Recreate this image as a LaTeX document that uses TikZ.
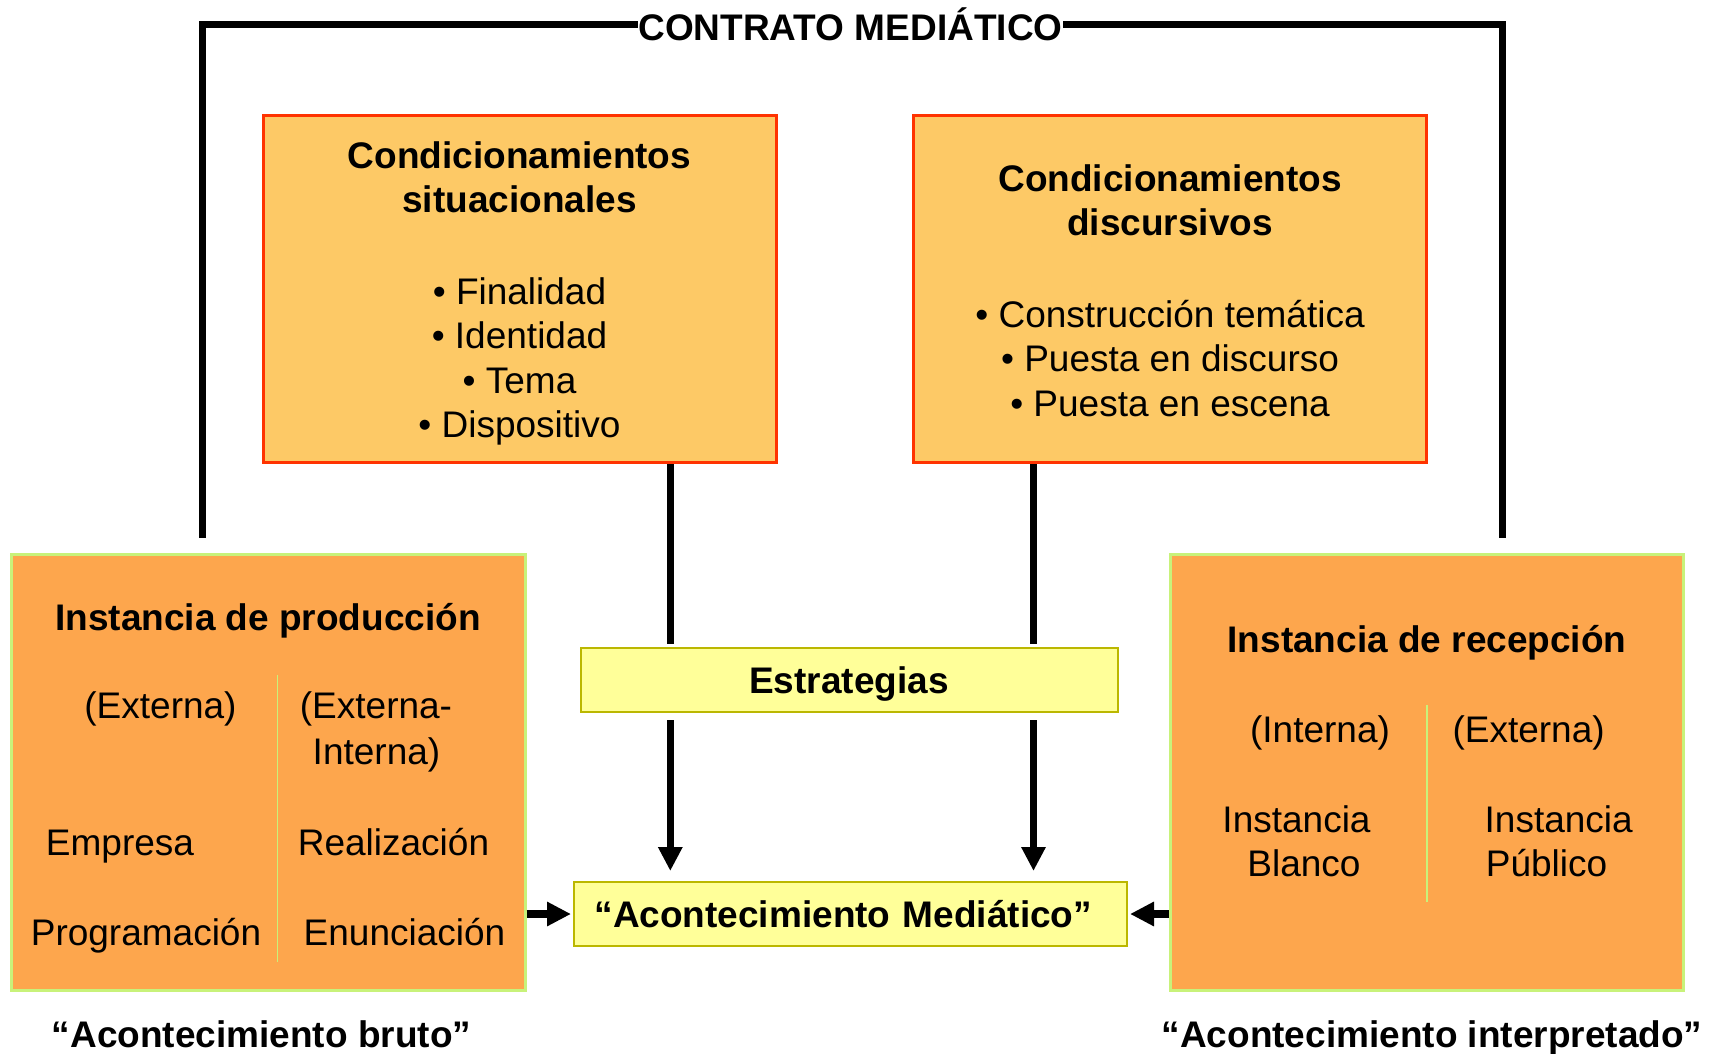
\documentclass[tikz,border=0pt]{standalone}
\usepackage{fontspec}
\setmainfont{Liberation Sans}
\usetikzlibrary{arrows.meta}
\definecolor{condfill}{RGB}{253,201,102}
\definecolor{condline}{RGB}{255,51,0}
\definecolor{instfill}{RGB}{253,166,77}
\definecolor{instline}{RGB}{200,242,122}
\definecolor{stratfill}{RGB}{255,255,153}
\definecolor{stratline}{RGB}{187,183,0}
\newcommand\diagfont{\fontsize{37}{44.5}\selectfont}
\begin{document}
\begin{tikzpicture}[x=1pt,y=-1pt,
  condbox/.style={draw=condline, line width=3pt, fill=condfill, minimum width=513pt, minimum height=347pt, inner sep=0pt, align=center, font=\diagfont},
  instbox/.style={draw=instline, line width=3pt, fill=instfill, minimum width=514pt, minimum height=436pt, inner sep=0pt},
  stratbox/.style={draw=stratline, line width=2pt, fill=stratfill, minimum height=64pt, inner sep=0pt, text height=26.5pt, text depth=0pt, font=\diagfont\bfseries},
  txt/.style={font=\diagfont, inner sep=0pt, anchor=base},
  btxt/.style={font=\diagfont\bfseries, inner sep=0pt, anchor=base},
  bracketline/.style={line width=7pt, line join=miter},
  vline/.style={line width=7.5pt},
  flow/.style={line width=8.5pt, -{Triangle[length=24pt,width=23pt]}},
  divider/.style={draw=instline, line width=1.6pt}
]
\useasboundingbox (0,0) rectangle (1717,1054);
\fill[white] (0,0) rectangle (1717,1054);

% top bracket
\node[btxt] (contract) at (850.5,41) {CONTRATO MEDIÁTICO};
\coordinate (brLb) at (202,537.5);
\coordinate (brTL) at (202,25);
\coordinate (brRb) at (1502.5,537.5);
\coordinate (brTR) at (1502.5,25);
\draw[bracketline] (brLb) -- (brTL) -- (brTL -| contract.west);
\draw[bracketline] (brRb) -- (brTR) -- (brTR -| contract.east);

% conditioning boxes
\node[condbox] (sit) at (519.5,289) {\rule{0pt}{35.8pt}\textbf{Condicionamientos}\\\textbf{situacionales}\\[46.7pt]• Finalidad\\• Identidad\\• Tema\\• Dispositivo};
\node[condbox] (dis) at (1170,289) {\rule{0pt}{29.8pt}\textbf{Condicionamientos}\\\textbf{discursivos}\\[47.2pt]• Construcción temática\\• Puesta en discurso\\• Puesta en escena};

% strategies and media event
\node[stratbox, minimum width=537pt] (strat) at (849,680) {Estrategias};
\node[stratbox, minimum width=553pt, text width=512pt, align=left] (acm) at (850.5,914) {“Acontecimiento Mediático”};

% instance boxes
\node[instbox] (prod) at (268,772.5) {};
\node[instbox, minimum width=513pt] (rec) at (1427,772.5) {};

% production texts
\node[btxt] (prodT) at (268,630) {Instancia de producción};
\node[txt] (pExt) at (160.5,718) {(Externa)};
\node[txt] (pExtA) at (376,718) {(Externa-};
\node[txt] (pExtB) at (376.5,764) {Interna)};
\node[txt] (pEmp) at (120,855) {Empresa};
\node[txt] (pProg) at (146,945) {Programación};
\node[txt] (pReal) at (393.5,855) {Realización};
\node[txt] (pEnun) at (404.5,945) {Enunciación};
\coordinate (dvLa) at (277.6,675);
\coordinate (dvLb) at (277.6,962);
\draw[divider] (dvLa) -- (dvLb);

% reception texts
\node[btxt] (recT) at (1427,652) {Instancia de recepción};
\node[txt] (rInt) at (1320,742) {(Interna)};
\node[txt] (rExt) at (1528.6,742) {(Externa)};
\node[txt] (rInsA) at (1296.5,832) {Instancia};
\node[txt] (rBlan) at (1304,876) {Blanco};
\node[txt] (rInsB) at (1558.7,832) {Instancia};
\node[txt] (rPub) at (1546.5,876) {Público};
\coordinate (dvRa) at (1427,705);
\coordinate (dvRb) at (1427,902);
\draw[divider] (dvRa) -- (dvRb);

% bottom labels
\node[btxt] (bruto) at (261.5,1047) {“Acontecimiento bruto”};
\node[btxt] (interp) at (1432,1047) {“Acontecimiento interpretado”};

% vertical connectors
\coordinate (vA) at (670.3,0);
\coordinate (vB) at (1033.5,0);
\draw[vline, shorten >=3pt] (sit.south -| vA) -- (strat.north -| vA);
\draw[vline, shorten >=3pt] (dis.south -| vB) -- (strat.north -| vB);
\draw[flow, line width=7.5pt, shorten <=7pt, shorten >=10pt] (strat.south -| vA) -- (acm.north -| vA);
\draw[flow, line width=7.5pt, shorten <=7pt, shorten >=10pt] (strat.south -| vB) -- (acm.north -| vB);

% horizontal connectors
\draw[flow, shorten >=2pt] (prod.east |- acm.west) -- (acm.west);
\draw[flow, shorten >=2pt] (rec.west |- acm.east) -- (acm.east);
\end{tikzpicture}
\end{document}
